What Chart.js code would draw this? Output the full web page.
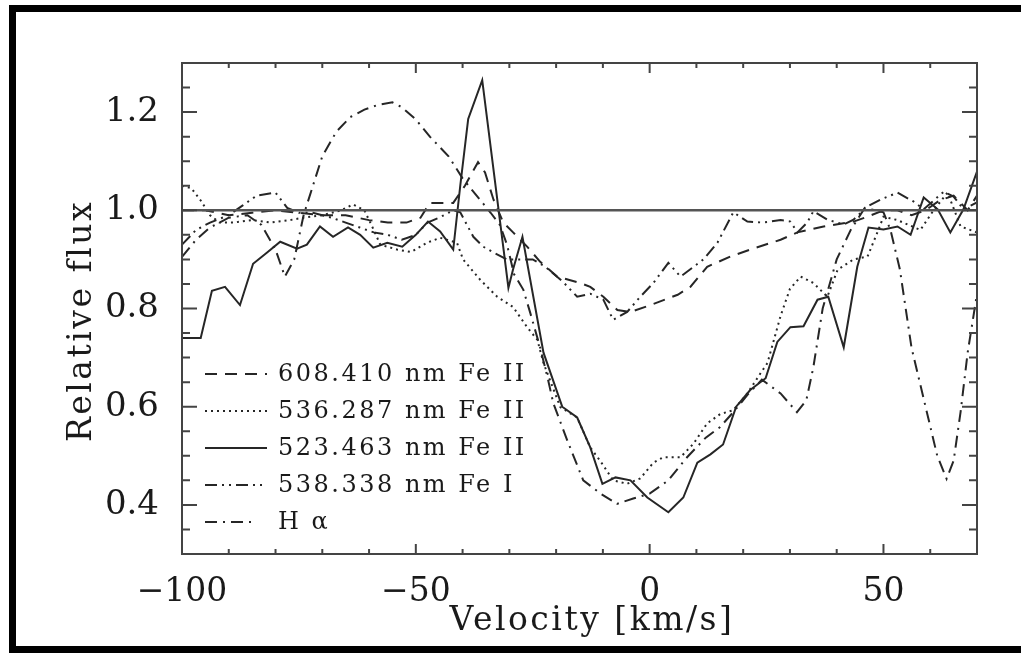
<!DOCTYPE html>
<html>
<head>
<meta charset="utf-8">
<script src="https://cdn.jsdelivr.net/npm/chart.js@4.4.1/dist/chart.umd.min.js"></script>
<style>
body { margin: 0; background: #fff; }
#wrap { position: relative; width: 1021px; height: 654px; overflow: hidden; }
#chart { position: absolute; left: 0; top: 0; }
#frame { position: absolute; left: 9px; top: 5px; width: 1100px; height: 648px; box-sizing: border-box;
         border: 7px solid #000; border-right: none; pointer-events: none; }
</style>
</head>
<body>
<div id="wrap">
  <canvas id="chart" width="1021" height="654"></canvas>
  <div id="frame"></div>
</div>
<script>
// axis ticks
const xTickVals = [-100, -50, 0, 50];
const xTickLabels = ['\u2212100', '\u221250', '0', '50'];
const yTickVals = [0.4, 0.6, 0.8, 1.0, 1.2];
const yTickLabels = ['0.4', '0.6', '0.8', '1.0', '1.2'];

const lineLabels = ['608.410 nm Fe II', '536.287 nm Fe II', '523.463 nm Fe II', '538.338 nm Fe I', 'H \u03b1'];

// 608.410 nm Fe II (dashed)
const vFe608 = [-100, -95, -90, -85, -80, -75, -70, -65, -60, -56, -52, -49, -47, -42, -39.5, -36.7, -35.2, -33.4, -31.3, -29.2, -26.2, -23.4, -19.8, -14.8, -12.7, -9.9, -6.9, -4.1, 0.2, 6, 8.7, 12.3, 17.3, 21.5, 28, 31.6, 37.2, 43.6, 46.6, 50, 53, 56, 59, 62, 65, 68, 70];
const fFe608 = [1.0, 1.0, 0.99, 0.995, 1.0, 0.995, 0.99, 0.99, 0.98, 0.975, 0.975, 0.985, 1.015, 1.015, 1.05, 1.098, 1.077, 1.022, 0.975, 0.955, 0.926, 0.895, 0.865, 0.852, 0.844, 0.824, 0.797, 0.793, 0.807, 0.828, 0.844, 0.885, 0.906, 0.92, 0.94, 0.955, 0.967, 0.977, 0.987, 1.0, 1.0, 0.99, 1.0, 1.02, 1.03, 1.0, 1.03];

// 536.287 nm Fe II (dotted)
const vFe536 = [-100, -98, -96, -94, -92, -89, -85, -81, -77, -74, -70, -66, -63.4, -61, -59, -57.6, -54, -51, -47.6, -44.8, -41.2, -39.9, -36.2, -32.6, -29.2, -26.2, -24, -22.7, -19.1, -15.5, -12.7, -10.6, -7.8, -4.8, -2, 0.8, 2.9, 6.6, 9.4, 12.3, 15.1, 17.9, 20.9, 23.7, 25.2, 28, 30, 32.3, 35, 38, 40.2, 43.6, 46.6, 48.7, 50, 53, 57.9, 60.7, 63.7, 66.5, 70];
const fFe536 = [1.05, 1.045, 1.02, 0.99, 0.975, 0.975, 0.98, 0.975, 0.98, 0.985, 0.99, 1.0, 1.012, 1.0, 0.96, 0.93, 0.92, 0.915, 0.934, 0.944, 0.934, 0.9, 0.858, 0.824, 0.803, 0.762, 0.736, 0.689, 0.599, 0.578, 0.517, 0.49, 0.45, 0.443, 0.454, 0.486, 0.497, 0.497, 0.525, 0.566, 0.585, 0.593, 0.627, 0.668, 0.689, 0.785, 0.84, 0.865, 0.852, 0.824, 0.879, 0.9, 0.906, 0.955, 0.987, 0.98, 0.96, 1.0, 1.036, 0.967, 0.955];

// 523.463 nm Fe II (solid)
const vFe523 = [-100, -96, -93.6, -90.8, -87.6, -84.8, -81.8, -79, -75.4, -73.3, -70.5, -67.7, -64.5, -61.9, -59.1, -56.1, -52.9, -50, -47.4, -44.8, -42, -40.5, -38.8, -35.8, -30.2, -29.2, -27.2, -22.7, -18.7, -15.5, -12.7, -10.1, -7.3, -4.1, -0.5, 4, 7.2, 10.2, 13, 15.7, 18.5, 21.5, 24.8, 27.3, 30.1, 32.9, 35.9, 38.2, 41.5, 44.4, 46.8, 50, 53, 55.8, 58.6, 61.6, 64.3, 67.1, 70];
const fFe523 = [0.74, 0.74, 0.836, 0.844, 0.807, 0.891, 0.914, 0.936, 0.922, 0.93, 0.967, 0.946, 0.965, 0.95, 0.924, 0.934, 0.926, 0.95, 0.977, 0.957, 0.92, 1.05, 1.186, 1.265, 0.842, 0.88, 0.946, 0.71, 0.6, 0.578, 0.517, 0.443, 0.456, 0.45, 0.415, 0.385, 0.415, 0.486, 0.503, 0.523, 0.6, 0.634, 0.658, 0.732, 0.762, 0.764, 0.818, 0.824, 0.721, 0.885, 0.965, 0.961, 0.967, 0.95, 1.026, 1.002, 0.955, 1.002, 1.079];

// 538.338 nm Fe I (dash dot dot)
const vFe538 = [-100, -97, -94, -90, -87, -84, -80, -77.5, -75, -72, -68, -65, -62, -59, -56, -53, -50, -47.5, -45, -42, -40.5, -37.7, -35.6, -33.4, -30.5, -27.7, -25, -22.3, -18.5, -15.5, -12.7, -9.9, -7.8, -4.8, -2, 0.8, 4, 6.6, 9.4, 11.5, 14.5, 17.9, 20.9, 24.3, 28, 30.1, 31.6, 33.7, 35, 38, 41.5, 43.6, 46.6, 49.4, 53, 56.4, 58.6, 62.9, 65, 67.1, 70];
const fFe538 = [0.93, 0.96, 0.975, 0.99, 1.01, 1.03, 1.036, 1.005, 0.995, 0.995, 0.985, 0.975, 0.965, 0.955, 0.95, 0.94, 0.95, 0.975, 0.985, 1.0, 0.996, 0.946, 0.926, 0.914, 0.9, 0.9, 0.9, 0.885, 0.854, 0.824, 0.83, 0.818, 0.777, 0.793, 0.824, 0.852, 0.893, 0.865, 0.885, 0.9, 0.934, 0.996, 0.977, 0.975, 0.98, 0.977, 0.955, 0.975, 0.998, 0.981, 0.971, 0.981, 1.008, 1.022, 1.036, 1.018, 1.002, 1.038, 1.028, 1.002, 1.016];

// H alpha (dash dot)
const vHa = [-100, -97, -94, -90, -86, -83, -80, -78, -76, -74, -72, -70, -67, -64, -61, -58, -55, -53, -50, -47, -43, -40, -37, -34, -32, -30.5, -29, -27, -25.5, -23.4, -21.7, -20.6, -17.6, -14.2, -10.5, -7, -3.5, 0, 4, 8, 12, 15, 18, 21, 24, 28, 31.5, 33.5, 35, 37, 40, 43, 46, 50, 51.5, 53.5, 56, 59, 61.5, 63.5, 65, 66.5, 68, 70];
const fHa = [0.905, 0.94, 0.965, 0.985, 0.99, 0.97, 0.92, 0.865, 0.9, 0.99, 1.05, 1.11, 1.16, 1.19, 1.205, 1.215, 1.22, 1.21, 1.185, 1.15, 1.11, 1.065, 1.03, 0.995, 0.97, 0.93, 0.87, 0.838, 0.79, 0.72, 0.654, 0.607, 0.531, 0.45, 0.423, 0.402, 0.413, 0.423, 0.45, 0.497, 0.537, 0.558, 0.59, 0.625, 0.655, 0.627, 0.589, 0.613, 0.68, 0.8, 0.9, 0.96, 1.005, 0.996, 0.96, 0.88, 0.72, 0.6, 0.5, 0.453, 0.49, 0.59, 0.71, 0.83];

// continuum level
const vCont = [-100, 70];
const fCont = [1.0, 1.0];

const pts = (vs, fs) => vs.map((v, i) => ({ x: v, y: fs[i] }));

const ink = '#262626';
const serif = '"DejaVu Serif", "Liberation Serif", serif';

function curve(label, vs, fs, dash) {
    return {
        label: label,
        data: pts(vs, fs),
        borderColor: ink,
        borderWidth: 2,
        borderDash: dash,
        pointRadius: 0,
        tension: 0,
        fill: false,
    };
}

const curves = [
    curve(lineLabels[0], vFe608, fFe608, [12, 8]),
    curve(lineLabels[1], vFe536, fFe536, [2, 4]),
    curve(lineLabels[2], vFe523, fFe523, []),
    curve(lineLabels[3], vFe538, fFe538, [12, 5, 2, 5, 2, 5]),
    curve(lineLabels[4], vHa, fHa, [12, 6, 2, 6]),
];

//frame, inward ticks, legend and axis titles
const decor = {
    id: 'decor',
    afterDatasetsDraw(chart) {
        const { ctx, chartArea: a, scales: { x, y } } = chart;
        ctx.save();
        ctx.strokeStyle = '#444';
        ctx.lineWidth = 2;
        ctx.setLineDash([]);
        ctx.strokeRect(a.left, a.top, a.right - a.left, a.bottom - a.top);
        ctx.beginPath();
        for (let v = -100; v <= 70; v += 10) {
            const px = x.getPixelForValue(v);
            const len = v % 50 === 0 ? 10 : 5;
            ctx.moveTo(px, a.bottom); ctx.lineTo(px, a.bottom - len);
            ctx.moveTo(px, a.top); ctx.lineTo(px, a.top + len);
        }
        for (let k = 0; k <= 20; k++) {
            const py = y.getPixelForValue(0.3 + k * 0.05);
            const len = (k - 2) % 4 === 0 ? 15 : 8;
            ctx.moveTo(a.left, py); ctx.lineTo(a.left + len, py);
            ctx.moveTo(a.right, py); ctx.lineTo(a.right - len, py);
        }
        ctx.stroke();
        ctx.restore();
    },
    afterDraw(chart) {
        const ctx = chart.ctx;
        ctx.save();
        // legend inside the plot
        ctx.font = '24px ' + serif;
        ctx.letterSpacing = '2.5px';
        ctx.textBaseline = 'middle';
        ctx.fillStyle = '#1a1a1a';
        curves.forEach((ds, i) => {
            const yy = 374 + i * 37;
            ctx.beginPath();
            ctx.setLineDash(ds.borderDash);
            ctx.lineWidth = 2;
            ctx.strokeStyle = ds.borderColor;
            ctx.moveTo(205, yy);
            ctx.lineTo(i === 4 ? 257 : 267, yy);
            ctx.stroke();
            ctx.fillText(ds.label, 278, yy + 1);
        });
        // axis titles
        ctx.font = '33px ' + serif;
        ctx.letterSpacing = '2.5px';
        ctx.textAlign = 'center';
        ctx.fillText('Velocity [km/s]', 592, 621);
        ctx.translate(82, 321);
        ctx.rotate(-Math.PI / 2);
        ctx.fillText('Relative flux', 0, 0);
        ctx.restore();
    }
};

new Chart(document.getElementById('chart'), {
    type: 'line',
    data: {
        datasets: [
            {
                label: 'continuum',
                data: pts(vCont, fCont),
                borderColor: '#555',
                borderWidth: 2.5,
                pointRadius: 0,
            },
        ].concat(curves)
    },
    options: {
        responsive: false,
        animation: false,
        devicePixelRatio: 1,
        layout: { padding: { left: 0, right: 44, top: 63, bottom: 0 } },
        plugins: { legend: { display: false }, tooltip: { enabled: false } },
        scales: {
            x: {
                type: 'linear',
                min: -100,
                max: 70,
                afterBuildTicks: (s) => { s.ticks = xTickVals.map(v => ({ value: v })); },
                afterFit: (s) => { s.height = 100; },
                grid: { display: false },
                border: { display: false },
                ticks: {
                    autoSkip: false,
                    maxRotation: 0,
                    padding: 11,
                    color: '#1a1a1a',
                    font: { family: serif, size: 33 },
                    callback: (v, i) => xTickLabels[i],
                },
            },
            y: {
                min: 0.3,
                max: 1.3,
                afterBuildTicks: (s) => { s.ticks = yTickVals.map(v => ({ value: v })); },
                afterFit: (s) => { s.width = 182; },
                grid: { display: false },
                border: { display: false },
                ticks: {
                    padding: 15,
                    color: '#1a1a1a',
                    font: { family: serif, size: 34 },
                    callback: (v, i) => yTickLabels[i],
                },
            },
        },
    },
    plugins: [decor],
});
</script>
</body>
</html>
